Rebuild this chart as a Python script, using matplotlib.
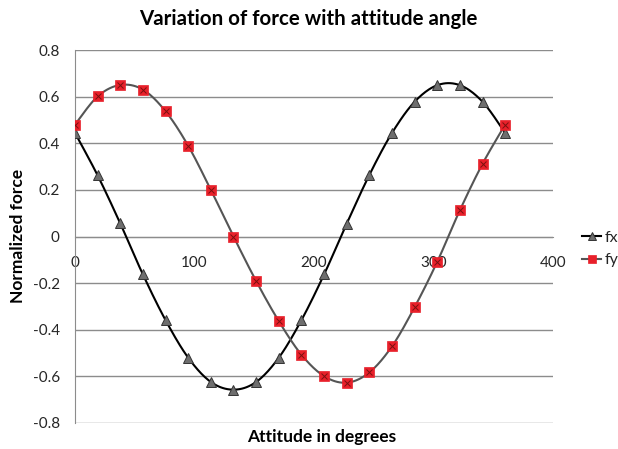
import numpy as np
import matplotlib
matplotlib.use("Agg")
import matplotlib.pyplot as plt
from matplotlib.lines import Line2D

plt.rcParams['font.family'] = ['Lato', 'DejaVu Sans']

# ---- data ----
angle = [0, 18.95, 37.89, 56.84, 75.79, 94.74, 113.68, 132.63, 151.58, 170.53,
         189.47, 208.42, 227.37, 246.32, 265.26, 284.21, 303.16, 322.11, 341.05, 360]
fx = [0.444, 0.262, 0.056, -0.163, -0.359, -0.520, -0.624, -0.657, -0.624, -0.520,
      -0.359, -0.163, 0.055, 0.264, 0.444, 0.578, 0.649, 0.649, 0.578, 0.444]
fy = [0.480, 0.601, 0.650, 0.630, 0.537, 0.389, 0.200, 0.0, -0.191, -0.363,
      -0.507, -0.599, -0.627, -0.583, -0.471, -0.303, -0.108, 0.113, 0.312, 0.480]
yticks = [-0.8, -0.6, -0.4, -0.2, 0, 0.2, 0.4, 0.6, 0.8]
xticks = [0, 100, 200, 300, 400]
title = "Variation of force with attitude angle"
xlabel = "Attitude in degrees"
ylabel = "Normalized force"


def smooth(x, y, n=20):
    x = np.asarray(x, float); y = np.asarray(y, float)
    P = np.column_stack([x, y])
    Pe = np.vstack([P[0], P, P[-1]])
    out = []
    t = np.linspace(0, 1, n)[:, None]
    for i in range(len(P) - 1):
        p0, p1, p2, p3 = Pe[i], Pe[i + 1], Pe[i + 2], Pe[i + 3]
        c1 = p1 + (p2 - p0) / 6.0
        c2 = p2 - (p3 - p1) / 6.0
        seg = ((1 - t) ** 3) * p1 + 3 * ((1 - t) ** 2) * t * c1 + 3 * (1 - t) * t ** 2 * c2 + t ** 3 * p2
        out.append(seg if i == 0 else seg[1:])
    s = np.vstack(out)
    return s[:, 0], s[:, 1]


fig = plt.figure(figsize=(6.18, 4.49), dpi=100)
W, H = 618, 449
L, R, T, B = 75, 553, 50, 423
ax = fig.add_axes([L / W, (H - B) / H, (R - L) / W, (B - T) / H])

grid_c = '#8c8c8c'
sx, sy = smooth(angle, fx)
ax.plot(sx, sy, color='#000000', lw=1.5, zorder=3)
sx2, sy2 = smooth(angle, fy)
ax.plot(sx2, sy2, color='#555555', lw=1.5, zorder=3)

ax.plot(angle, fx, ls='none', marker='^', ms=6.5, mfc='#6e6e6e', mec='#333333', mew=0.7, zorder=4)
ax.plot(angle, fy, ls='none', marker='s', ms=7.5, mfc='#e8202a', mec='#e8202a', mew=0.5, zorder=4)
ax.plot(angle, fy, ls='none', marker='x', ms=4.5, mec='#7a1010', mew=0.7, zorder=5)

ax.set_xlim(0, 400)
ax.set_ylim(-0.8, 0.8)
ax.set_yticks(yticks)
ax.set_yticklabels(['-0.8', '-0.6', '-0.4', '-0.2', '0', '0.2', '0.4', '0.6', '0.8'])
ax.set_xticks(xticks)
ax.set_xticklabels([str(v) for v in xticks])
ax.yaxis.grid(True, color=grid_c, lw=1.0, zorder=0)
for s in ['top', 'right']:
    ax.spines[s].set_visible(False)
ax.spines['left'].set_color(grid_c)
ax.spines['bottom'].set_color(grid_c)
ax.spines['bottom'].set_position(('data', 0))
ax.tick_params(axis='both', length=0, labelsize=11, labelcolor='#262626')
ax.tick_params(axis='x', pad=14)
ax.tick_params(axis='y', pad=11)
for lab in ax.get_xticklabels():
    lab.set_zorder(2)
ax.set_axisbelow(True)

fig.text(308 / W, 1 - 19 / H, title, ha='center', va='center', fontsize=14.8, fontweight='bold', color='#000000')
fig.text(322 / W, 1 - 437 / H, xlabel, ha='center', va='center', fontsize=12.5, fontweight='bold', color='#000000')
fig.text(18 / W, 1 - 236 / H, ylabel, ha='center', va='center', rotation=90, fontsize=12.5, fontweight='bold', color='#000000')

h1 = Line2D([], [], color='#000000', lw=1.5, marker='^', ms=6, mfc='#6e6e6e', mec='#333333', mew=0.7)
h2 = Line2D([], [], color='#555555', lw=1.5, marker='s', ms=6, mfc='#e8202a', mec='#e8202a', mew=0.5)
fig.legend([h1, h2], ['fx', 'fy'], loc='center left', bbox_to_anchor=(582 / W, 1 - 249 / H),
           frameon=False, fontsize=11.5, handlelength=1.2, handletextpad=0.2, labelspacing=0.5,
           borderaxespad=0, borderpad=0, labelcolor='#262626')

fig.savefig('out.png', dpi=100)
